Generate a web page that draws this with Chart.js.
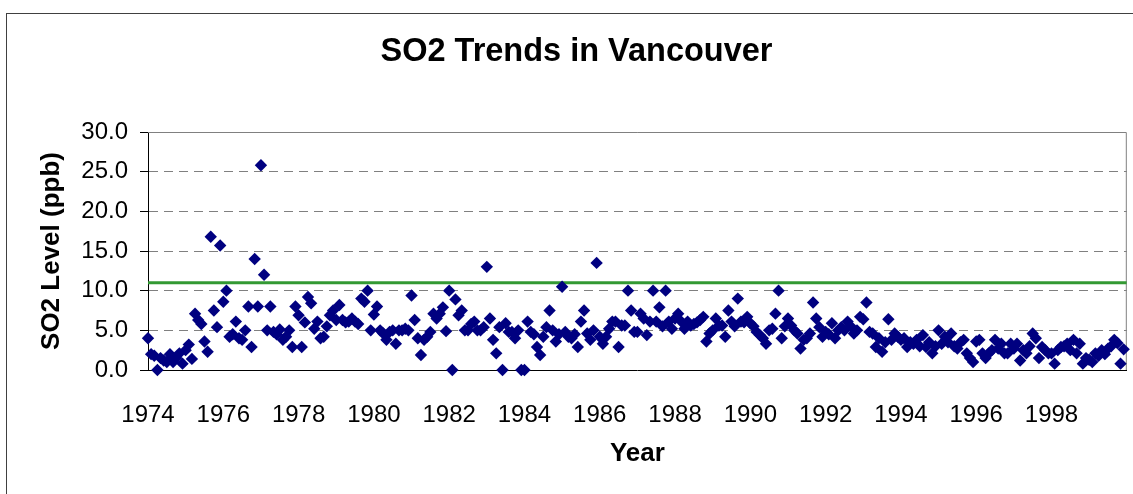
<!DOCTYPE html>
<html>
<head>
<meta charset="utf-8">
<title>SO2 Trends in Vancouver</title>
<script src="https://cdn.jsdelivr.net/npm/chart.js@4.4.0/dist/chart.umd.min.js"></script>
<style>
  html, body { margin: 0; padding: 0; background: #fff; }
  body { width: 1133px; height: 494px; overflow: hidden; position: relative; }
  #frame { position: absolute; left: 6px; top: 13px; width: 1200px; height: 600px; border: 1px solid #404040; }
  #wrap { position: absolute; left: 0; top: 0; width: 1133px; height: 494px; }
</style>
</head>
<body>
<div id="frame"></div>
<div id="wrap"><canvas id="so2Chart"></canvas></div>
<script>
// monthly readings, Jan 1974 .. Dec 1999
const startYear = 1974;
const endYear = 2000;
const so2Monthly = [
  4.0, 2.0, 1.8, 0.0, 1.5, 1.2, 1.0, 2.0, 1.0, 1.5, 2.1, 0.8,      // 1974
  2.5, 3.2, 1.4, 7.1, 6.3, 5.8, 3.6, 2.3, 16.8, 7.5, 5.4, 15.7,    // 1975
  8.6, 10.0, 4.2, 4.5, 6.1, 4.0, 3.8, 5.0, 8.0, 2.9, 14.0, 8.0,    // 1976
  25.8, 12.0, 5.0, 8.0, 4.8, 4.5, 5.1, 3.8, 4.2, 5.0, 2.9, 8.0,    // 1977
  6.9, 2.9, 6.0, 9.2, 8.4, 5.2, 6.1, 4.0, 4.2, 5.5, 6.9, 7.5,      // 1978
  6.3, 8.2, 6.3, 6.0, 6.1, 6.5, 6.1, 5.8, 9.0, 8.6, 10.0, 5.0,     // 1979
  7.0, 8.0, 5.0, 4.6, 3.8, 4.8, 5.0, 3.3, 5.0, 5.0, 5.2, 5.0,      // 1980
  9.4, 6.3, 4.0, 1.9, 3.8, 4.2, 4.8, 7.1, 6.5, 7.1, 7.9, 4.9,      // 1981
  10.0, 0.0, 8.9, 6.9, 7.5, 5.0, 5.0, 5.8, 6.1, 5.0, 5.0, 5.4,     // 1982
  13.0, 6.5, 3.8, 2.1, 5.4, 0.0, 5.9, 4.8, 4.8, 4.0, 5.0, 0.0,     // 1983
  0.0, 6.1, 4.8, 4.5, 2.9, 1.9, 4.2, 5.4, 7.5, 5.0, 3.6, 4.5,      // 1984
  10.5, 4.8, 4.2, 4.0, 4.5, 2.9, 6.1, 7.5, 4.6, 3.8, 5.0, 13.5,    // 1985
  4.2, 3.3, 4.2, 5.2, 6.1, 6.1, 2.9, 5.6, 5.6, 10.0, 7.5, 4.8,     // 1986
  4.8, 7.1, 6.5, 4.4, 6.1, 10.0, 6.1, 7.9, 5.5, 10.0, 6.1, 5.2,    // 1987
  6.5, 7.1, 6.1, 5.2, 6.1, 5.6, 5.8, 6.0, 6.3, 6.7, 3.6, 4.6,      // 1988
  5.0, 6.5, 5.6, 5.6, 4.2, 7.5, 6.1, 5.5, 9.0, 6.1, 6.0, 6.7,      // 1989
  5.9, 5.5, 4.8, 4.4, 4.0, 3.3, 5.0, 5.2, 7.1, 10.0, 4.0, 5.5,     // 1990
  6.5, 5.6, 5.0, 4.6, 2.7, 3.8, 4.0, 4.6, 8.5, 6.5, 5.4, 4.2,      // 1991
  4.8, 4.5, 5.9, 4.0, 5.0, 5.4, 5.0, 6.1, 5.5, 4.6, 5.0, 6.7,      // 1992
  6.4, 8.5, 4.8, 4.6, 2.9, 4.0, 2.3, 3.5, 6.4, 3.8, 4.6, 4.2,      // 1993
  3.8, 4.0, 2.9, 3.5, 3.3, 3.8, 3.0, 4.4, 2.9, 3.5, 2.1, 3.0,      // 1994
  5.0, 3.3, 4.2, 3.5, 4.6, 3.0, 2.7, 3.5, 3.8, 2.1, 1.5, 1.0,      // 1995
  3.6, 3.8, 2.1, 1.5, 2.1, 2.5, 3.8, 2.7, 3.3, 2.1, 2.1, 3.3,      // 1996
  2.7, 3.3, 1.2, 2.5, 2.1, 3.0, 4.6, 4.0, 1.5, 2.9, 2.5, 2.1,      // 1997
  2.1, 0.8, 2.5, 2.9, 3.0, 3.3, 2.5, 3.8, 2.1, 3.3, 0.8, 1.5,      // 1998
  1.3, 1.0, 2.1, 1.8, 2.5, 2.0, 2.7, 3.0, 3.8, 3.4, 0.8, 2.6       // 1999
];
const objectiveLevel = 11;
const yMin = 0;
const yMax = 30;
const yStep = 5;
const yearStep = 2;

const points = so2Monthly.map((v, i) => ({ x: startYear + i / 12, y: v }));

const fontFamily = "Arial, 'Liberation Sans', Helvetica, sans-serif";

// gray frame on the top and right of the plot area (axes cover left/bottom)
const plotFrame = {
  id: 'plotFrame',
  beforeDatasetsDraw(chart) {
    const { ctx, chartArea: a } = chart;
    ctx.save();
    ctx.strokeStyle = '#808080';
    ctx.lineWidth = 1;
    ctx.beginPath();
    ctx.moveTo(a.left, a.top + 0.5);
    ctx.lineTo(a.right - 0.5, a.top + 0.5);
    ctx.lineTo(a.right - 0.5, a.bottom);
    ctx.stroke();
    ctx.restore();
  }
};

new Chart(document.getElementById('so2Chart'), {
  type: 'scatter',
  data: {
    datasets: [
      {
        label: 'SO2',
        data: points,
        showLine: false,
        clip: false,
        pointStyle: 'rectRot',
        pointRadius: 6.2,
        backgroundColor: '#000080',
        borderColor: '#000080',
        borderWidth: 0
      },
      {
        label: 'Objective',
        data: [{ x: startYear, y: objectiveLevel }, { x: endYear, y: objectiveLevel }],
        showLine: true,
        pointRadius: 0,
        borderColor: '#339933',
        borderWidth: 3
      }
    ]
  },
  options: {
    responsive: true,
    maintainAspectRatio: false,
    animation: false,
    layout: { padding: { left: 24, right: 4, top: 0, bottom: 0 } },
    plugins: {
      legend: { display: false },
      tooltip: { enabled: false },
      title: {
        display: true,
        text: 'SO2 Trends in Vancouver',
        color: '#000',
        font: { family: fontFamily, size: 32.5, weight: 'bold' },
        padding: { top: 33, bottom: 60 }
      }
    },
    scales: {
      x: {
        type: 'linear',
        min: startYear,
        max: endYear,
        afterFit(scale) { scale.height = 124; },
        afterBuildTicks(scale) {
          scale.ticks = scale.ticks.filter(t => t.value < endYear);
        },
        ticks: {
          stepSize: yearStep,
          color: '#000',
          padding: 23,
          maxRotation: 0,
          font: { family: fontFamily, size: 24 },
          callback: v => String(v)
        },
        grid: { display: false },
        border: { display: true, color: '#000', width: 1 },
        title: {
          display: true,
          text: 'Year',
          color: '#000',
          font: { family: fontFamily, size: 26, weight: 'bold' },
          padding: { top: 0, bottom: 25 }
        }
      },
      y: {
        min: yMin,
        max: yMax,
        afterFit(scale) { scale.width = 124; },
        ticks: {
          stepSize: yStep,
          color: '#000',
          padding: 12,
          font: { family: fontFamily, size: 24 },
          callback: v => Number(v).toFixed(1)
        },
        grid: {
          color: ctx => (ctx.tick && (ctx.tick.value === yMin || ctx.tick.value === yMax)) ? 'rgba(0,0,0,0)' : '#808080',
          lineWidth: 1,
          tickLength: 8,
          tickColor: '#000',
          tickBorderDash: []
        },
        border: { display: true, color: '#000', width: 1, dash: [9, 6] },
        title: {
          display: true,
          text: 'SO2 Level (ppb)',
          color: '#000',
          font: { family: fontFamily, size: 26, weight: 'bold' },
          padding: { top: 12, bottom: 0 }
        }
      }
    }
  },
  plugins: [plotFrame]
});
</script>
</body>
</html>
